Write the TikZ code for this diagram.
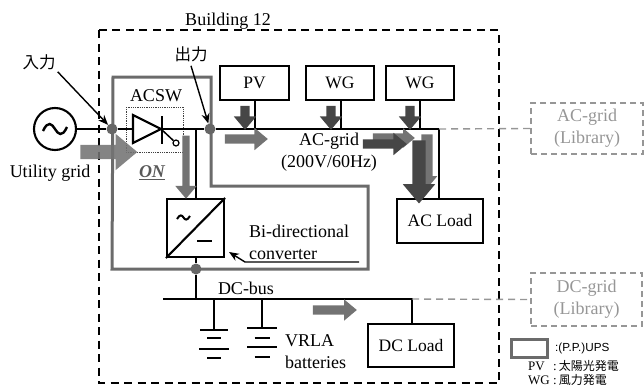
\documentclass[tikz,border=0pt]{standalone}
\usepackage{fontspec}
\setmainfont{Liberation Serif}
\newfontfamily\cjkfont{Noto Sans CJK JP}
\newfontfamily\legendfont{Liberation Sans}
\usetikzlibrary{positioning,calc,arrows.meta,shapes.arrows}
\definecolor{FlowGray}{RGB}{115,115,115}
\definecolor{FlowDark}{RGB}{70,70,70}
\definecolor{LibGray}{RGB}{150,150,150}
\tikzset{
  wire/.style={draw=black,line width=2.1pt},
  thinwire/.style={draw=black,line width=1.5pt},
  box/.style={draw=black,fill=white,line width=2.1pt,inner sep=0pt,font=\fontsize{17.5}{20}\selectfont},
  libbox/.style={draw=LibGray,dash pattern=on 6pt off 4pt,line width=1.6pt,inner sep=0pt,
    text=LibGray,align=center,font=\fontsize{18}{22}\selectfont},
  libline/.style={draw=LibGray,dash pattern=on 7pt off 5pt,line width=1.4pt},
  jct/.style={circle,fill=black!60,inner sep=0pt,minimum size=11pt},
  lbl/.style={inner sep=0pt,align=center,font=\fontsize{18}{22}\selectfont},
  cjk/.style={inner sep=0pt,font=\cjkfont\fontsize{16.5}{16.5}\selectfont},
  flowarrow/.style n args={2}{single arrow,draw=none,inner xsep=0pt,inner ysep=#1/2,single arrow head extend=#2,single arrow tip angle=80},
  leader/.style={draw=black,line width=1.4pt,-{Stealth[length=10pt,width=8pt]}},
  plate/.style={draw=black,line width=2.1pt},
}
\begin{document}
\begin{tikzpicture}[x=1pt,y=-1pt]
  \useasboundingbox (0,0) rectangle (644,388);
  % building and UPS outlines
  \draw[line width=2pt,dash pattern=on 8pt off 5.5pt] (99,30) rectangle (499,383);
  \draw[draw=black!58,line width=3pt] (113,77)--(211,77)--(211,186)--(368,186)--(368,269)--(112,269)--cycle;
  \draw[densely dotted,line width=0.8pt,draw=black!75] (126,107) rectangle (183,152);
  \node[lbl] (bldg) at (228,21) {Building 12};
  % source
  \node[circle,draw=black,line width=2.1pt,minimum size=42pt,inner sep=0pt] (src) at (55,129) {};
  \draw[line width=2.4pt] ($(src)+(-12,2)$) .. controls ($(src)+(-7,-9)$) and ($(src)+(-3,-5)$) .. (src.center)
    .. controls ($(src)+(3,5)$) and ($(src)+(7,9)$) .. ($(src)+(12,-2)$);
  \node[jct] (jin) at (112,129) {};
  \node[jct] (jout) at (210,129) {};
  \node[jct] (jdc) at (196,269) {};
  \coordinate (busend) at (439,129);
  \coordinate (dcl) at (163,299);
  \coordinate (dcr) at (412,299);
  \coordinate (conv) at (196,129);
  \draw[wire] (src)--(jin)--(jout)--(busend);
  % diode
  \coordinate (d1) at (133,115);
  \coordinate (d2) at (133,143);
  \coordinate (d3) at (161,129);
  \coordinate (g1) at (162,116);
  \coordinate (g2) at (162,144);
  \node[circle,draw=black,line width=1.2pt,fill=white,minimum size=6pt,inner sep=0pt] (gate) at (176,143) {};
  \draw[wire,fill=white] (d1)--(d2)--(d3)--cycle;
  \draw[wire] (g1)--(g2);
  \draw[thinwire] (d3)--(gate);
  % sources on the AC bus
  \node[box,minimum width=69pt,minimum height=34pt] (pv) at (254.5,83) {PV};
  \node[box,minimum width=68pt,minimum height=34pt] (wg1) at (340,83) {WG};
  \node[box,minimum width=68pt,minimum height=34pt] (wg2) at (420,83) {WG};
  \foreach \n/\x in {pv/255,wg1/341,wg2/420} {
    \coordinate (t\n) at (\x,129);
    \draw[wire] (\n.south -| t\n)--(t\n);
  }
  % loads and converter
  \node[box,minimum width=86pt,minimum height=44pt] (acload) at (440,221) {AC Load};
  \node[box,minimum width=86pt,minimum height=43pt] (dcload) at (411,345.5) {DC Load};
  \node[box,minimum width=57pt,minimum height=58pt] (bdc) at (195.5,228) {};
  \draw[wire] (bdc.south west)--(bdc.north east);
  \draw[line width=2pt] (177,219) .. controls (180,214) and (182,215) .. (183.5,217.5)
    .. controls (185,220) and (187,221) .. (190,216);
  \draw[wire] (197,241)--(212,241);
  \draw[wire] (conv)--(conv |- bdc.north);
  \draw[wire] (busend)--(busend |- acload.north);
  \draw[wire] (bdc.south -| conv)--(jdc);
  \draw[wire] (jdc)--(jdc |- dcl);
  \draw[wire] (dcl)--(dcr)--(dcr |- dcload.north);
  % batteries
  \coordinate (b1) at (214,299);
  \coordinate (b2) at (262,299);
  \draw[wire] (b1)--(214,330);
  \draw[wire] (b2)--(262,328);
  \foreach \y/\w in {330/14,338/7,349/15,358/7} {\draw[plate] (214-\w,\y)--(214+\w,\y);}
  \foreach \y/\w in {328/15,338/7.5,347/15,357/7.5} {\draw[plate] (262-\w,\y)--(262+\w,\y);}
  % power flow arrows
  \node[flowarrow={14pt}{11pt},fill=FlowGray,minimum height=57pt,opacity=.88] (fin) at (104.5,152) {};
  \node[flowarrow={9pt}{6.5pt},fill=FlowGray,minimum height=43pt] (fpv) at (243.5,139) {};
  \node[flowarrow={7pt}{7pt},fill=FlowGray,minimum height=63pt,rotate=-90] (fdown) at (186,165) {};
  \node[flowarrow={9pt}{6.5pt},fill=FlowDark,minimum height=24pt,rotate=-90] (fpvd) at (245,115) {};
  \node[flowarrow={9pt}{6.5pt},fill=FlowDark,minimum height=24pt,rotate=-90] (fwg1) at (331,115) {};
  \node[flowarrow={9pt}{6.5pt},fill=FlowDark,minimum height=24pt,rotate=-90] (fwg2) at (410,115) {};
  \node[flowarrow={9pt}{5pt},fill=FlowGray,minimum height=42pt] (fac1) at (391,138) {};
  \node[flowarrow={9pt}{6.5pt},fill=FlowDark,minimum height=44pt] (fac2) at (382,144) {};
  \node[flowarrow={11pt}{4.5pt},fill=FlowGray,minimum height=54pt,rotate=-90] (fac3) at (427,158) {};
  \node[flowarrow={13pt}{9.5pt},fill=FlowDark,minimum height=63pt,rotate=-90] (fac4) at (419,168) {};
  \node[flowarrow={9pt}{6pt},fill=FlowGray,minimum height=44pt] (fdc) at (332,310) {};
  % libraries
  \node[libbox,minimum width=112pt,minimum height=51pt] (aclib) at (587,128.5) {AC-grid\\(Library)};
  \node[libbox,minimum width=111pt,minimum height=53pt] (dclib) at (586.5,299.5) {DC-grid\\(Library)};
  \draw[libline] (busend)--(aclib.west);
  \draw[libline] (dcr)--(dclib.west);
  % labels
  \node[cjk] (lin) at (39,62) {入力};
  \node[cjk] (lout) at (191,54) {出力};
  \draw[leader] (lin.south east)++(2,2)--(jin);
  \draw[leader] (lout.south)++(0,4)--(jout);
  \node[lbl] (acsw) at (156,96) {ACSW};
  \node[lbl] (util) at (50,173) {Utility grid};
  \node[lbl,text=black!65,font=\bfseries\itshape\fontsize{18}{20}\selectfont] (on) at (152,173) {\underline{ON}};
  \node[lbl] (acbus) at (329,152) {AC-grid\\(200V/60Hz)};
  \node[lbl,align=left,anchor=west] (bdclbl) at (249,242) {Bi-directional\\converter};
  \coordinate (c1) at (359,262);
  \coordinate (c2) at (245,262);
  \coordinate (c3) at (229,252);
  \draw[leader] (c1)--(c2)--(c3);
  \node[lbl] (dcbus) at (246,288) {DC-bus};
  \node[lbl,align=left,anchor=west] (vrla) at (285,352) {VRLA\\batteries};
  % legend
  \node[draw=black!58,line width=3pt,minimum width=36pt,minimum height=18pt,inner sep=0pt] (legbox) at (529.5,348) {};
  \node[inner sep=0pt,anchor=west,font=\legendfont\fontsize{11.7}{12}\selectfont] (legups) at (555,348) {:(P.P.)UPS};
  \node[inner sep=0pt,anchor=west,font=\fontsize{13}{14}\selectfont] (legpv) at (528,366) {\makebox[25pt][l]{PV}:\,{\cjkfont\fontsize{12}{14}\selectfont 太陽光発電}};
  \node[inner sep=0pt,anchor=west,font=\fontsize{13}{14}\selectfont] (legwg) at (528,380) {\makebox[25pt][l]{WG}:\,{\cjkfont\fontsize{12}{14}\selectfont 風力発電}};
\end{tikzpicture}
\end{document}
